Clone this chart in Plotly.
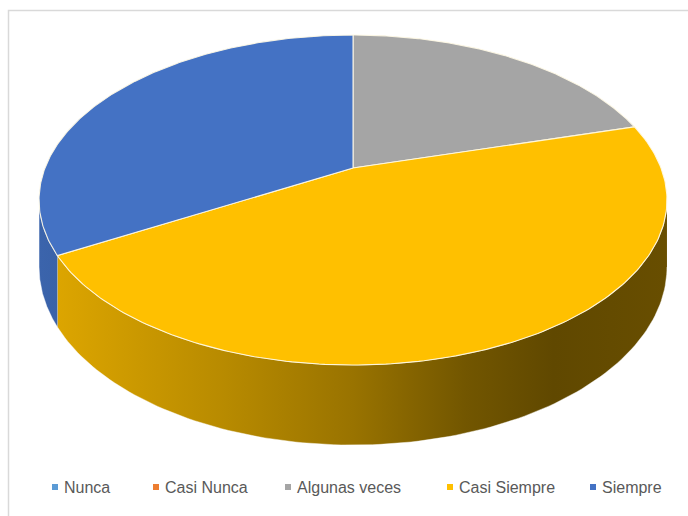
import numpy as np
import plotly.graph_objects as go

# ---- data -------------------------------------------------------------
categories = ["Nunca", "Casi Nunca", "Algunas veces", "Casi Siempre", "Siempre"]
values = [0, 0, 20.6, 46.1, 33.3]
colors = ["#5B9BD5", "#ED7D31", "#A5A5A5", "#FFC000", "#4472C4"]

# ---- 3D pie geometry (pixel space, perspective view of a disc) ---------
W, H = 688, 516
CX, CY = 353.0, 168.0        # projected centre of the disc
A, B, K = 308.0, 158.8, 0.194  # horizontal scale, depth scale, perspective
WALL = 64.5                  # wall height before perspective


def project(theta_deg):
    """Angle clockwise from 12 o'clock -> screen point on the top rim."""
    t = np.radians(theta_deg)
    x, y = np.sin(t), np.cos(t)
    d = 1.0 + K * y
    return CX + A * x / d, CY - B * y / d, WALL / d


def hex_to_rgb(h):
    h = h.lstrip("#")
    return [int(h[i:i + 2], 16) for i in (0, 2, 4)]


def shade(h, f):
    r, g, b = hex_to_rgb(h)
    return "rgb({},{},{})".format(int(r * f), int(g * f), int(b * f))


# lighting of the side wall from left (lit) to right (shadow)
light_stops = [(0.0, 0.88), (0.3, 0.72), (0.5, 0.60), (0.68, 0.45),
               (0.82, 0.38), (1.0, 0.41)]

total = float(sum(values))
starts = np.cumsum([0] + values[:-1]) / total * 360.0
ends = np.cumsum(values) / total * 360.0

sil = np.degrees(np.arccos(-K))          # silhouette angles of the side wall
vis_lo, vis_hi = sil, 360.0 - sil
x_left = project(vis_hi)[0]
x_right = project(vis_lo)[0]

fig = go.Figure()

# side walls (front half only)
for cat, col, a0, a1 in zip(categories, colors, starts, ends):
    lo, hi = max(a0, vis_lo), min(a1, vis_hi)
    if hi <= lo:
        continue
    th = np.linspace(lo, hi, 120)
    px, py, dd = project(th)
    xs = np.concatenate([px, px[::-1]])
    ys = np.concatenate([py, (py + dd)[::-1]])
    cscale = [[s, shade(col, f)] for s, f in light_stops]
    fig.add_trace(go.Scatter(
        x=xs, y=ys, mode="lines", fill="toself",
        line=dict(color="rgba(255,255,255,0.55)", width=0.8),
        fillgradient=dict(type="horizontal", start=x_left, stop=x_right,
                          colorscale=cscale),
        hoverinfo="skip", showlegend=False))

# top faces
for cat, col, v, a0, a1 in zip(categories, colors, values, starts, ends):
    if v <= 0:
        continue
    th = np.linspace(a0, a1, 200)
    px, py, _ = project(th)
    xs = np.concatenate([[CX], px, [CX]])
    ys = np.concatenate([[CY], py, [CY]])
    fig.add_trace(go.Scatter(
        x=xs, y=ys, mode="lines", fill="toself", fillcolor=col,
        line=dict(color="rgba(255,250,230,0.9)", width=1.1),
        name=cat, hoverinfo="name", showlegend=False))

# ---- legend (bottom row) ---------------------------------------------
legend_x = [55, 156, 288, 450, 593]
legend_y = 487
fig.add_trace(go.Scatter(
    x=legend_x, y=[legend_y] * len(categories), mode="markers",
    marker=dict(symbol="square", size=6, color=colors),
    hoverinfo="skip", showlegend=False))
for cat, lx in zip(categories, legend_x):
    fig.add_annotation(
        x=lx + 7, y=legend_y, text=cat, showarrow=False,
        xanchor="left", yanchor="middle",
        font=dict(family="Liberation Sans Narrow, Arial Narrow, sans-serif",
                  size=16, color="#595959"))

fig.add_shape(type="rect", x0=8.5, y0=10.5, x1=W + 20, y1=H + 20,
              line=dict(color="#D9D9D9", width=1.5), layer="below")

fig.update_layout(
    width=W, height=H, margin=dict(l=0, r=0, t=0, b=0),
    paper_bgcolor="white", plot_bgcolor="white",
    xaxis=dict(range=[0, W], visible=False, fixedrange=True),
    yaxis=dict(range=[H, 0], visible=False, fixedrange=True),
    showlegend=False,
)

fig.write_html("out.html")
